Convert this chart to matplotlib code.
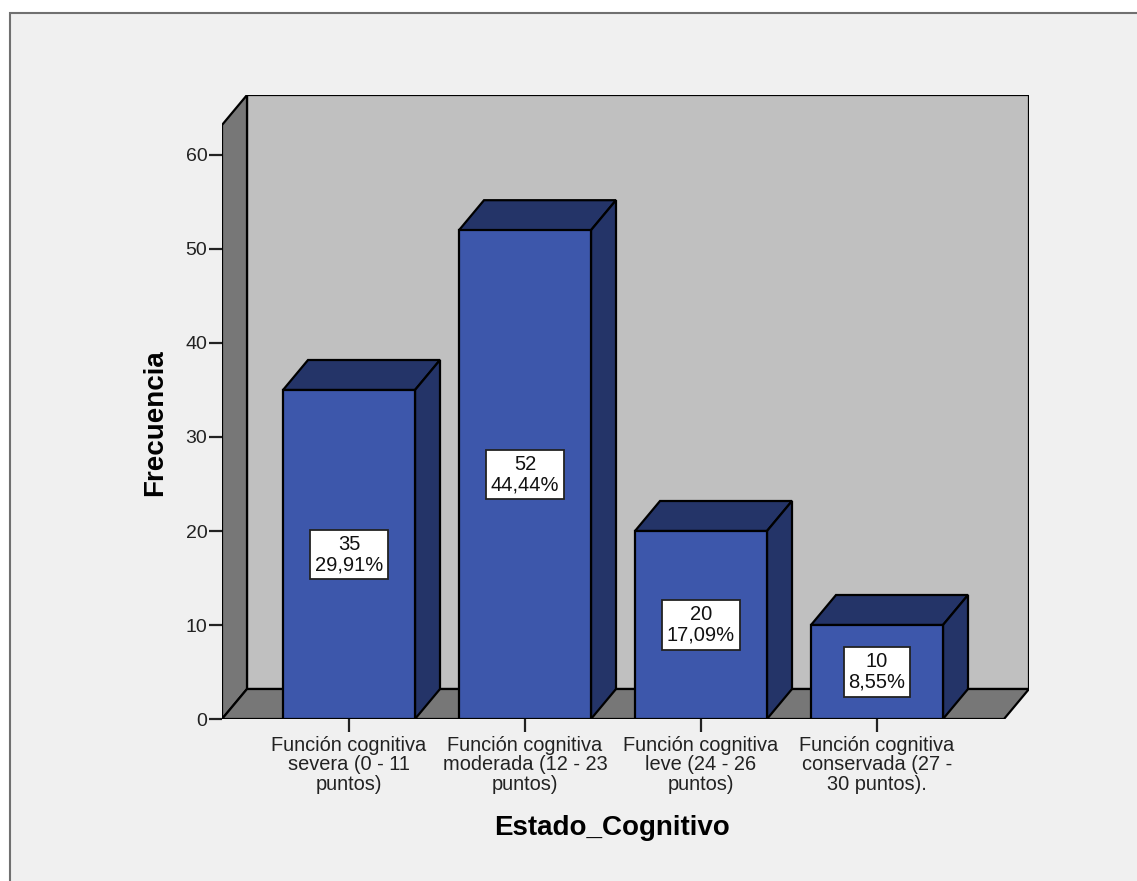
"""
Estado cognitivo - grafico de barras tipo SPSS (3D)
"""

import matplotlib
matplotlib.use('Agg')
from matplotlib import pyplot as plt
from matplotlib.patches import Polygon, Rectangle

plt.rcParams['font.family'] = ['Liberation Sans', 'DejaVu Sans']

# datos
categorias = ['Función cognitiva\nsevera (0 - 11\npuntos)',
              'Función cognitiva\nmoderada (12 - 23\npuntos)',
              'Función cognitiva\nleve (24 - 26\npuntos)',
              'Función cognitiva\nconservada (27 -\n30 puntos).']
frecuencias = [35, 52, 20, 10]
porcentajes = ['29,91%', '44,44%', '17,09%', '8,55%']
y_ticks = [0, 10, 20, 30, 40, 50, 60]

W, H = 1137, 881
FRONT_BLUE = '#3d57ab'
DARK_BLUE = '#243468'
WALL_BACK = '#c0c0c0'
WALL_SIDE = '#777777'
BG = '#f0f0f0'

fig = plt.figure(figsize=(W / 100, H / 100), dpi=100, facecolor='white')

# marco exterior gris
fig.patches.append(Rectangle((10 / W, -0.1), 1.2, (H - 13) / H + 0.1,
                             transform=fig.transFigure, facecolor=BG,
                             edgecolor='#707070', lw=1.5, zorder=-10))

# area del grafico (pixeles): pared frontal izq x=222, fondo der x=1029, y 95..719
left, right, top, bottom = 222, 1029, 95, 719
ax = fig.add_axes([left / W, (H - bottom) / H, (right - left) / W, (bottom - top) / H])
ax.set_zorder(5)
ax.patch.set_alpha(0)

px_per_y = 9.4
px_per_x = 176.0
x0 = -127 / px_per_x
xmax = x0 + (right - left) / px_per_x
ymax = (bottom - top) / px_per_y
ax.set_xlim(x0, xmax)
ax.set_ylim(0, ymax)

dx = 25 / px_per_x
dy = 30 / px_per_y
x1 = xmax - dx          # borde frontal derecho del piso
ytop = ymax - dy        # altura frontal de la pared izq

ek = dict(edgecolor='black', lw=1.6, joinstyle='miter')

# pared de fondo, pared lateral y piso
ax.add_patch(Rectangle((x0 + dx, dy), x1 - x0, ytop, facecolor=WALL_BACK, **ek))
ax.add_patch(Polygon([(x0, 0), (x0 + dx, dy), (x0 + dx, ymax), (x0, ytop)],
                     facecolor=WALL_SIDE, **ek))
ax.add_patch(Polygon([(x0, 0), (x1, 0), (xmax, dy), (x0 + dx, dy)],
                     facecolor=WALL_SIDE, **ek))

hw = 66 / px_per_x
for i, (v, p) in enumerate(zip(frecuencias, porcentajes)):
    a, b = i - hw, i + hw
    ax.add_patch(Polygon([(a, v), (b, v), (b + dx, v + dy), (a + dx, v + dy)],
                         facecolor=DARK_BLUE, **ek))
    ax.add_patch(Polygon([(b, 0), (b + dx, dy), (b + dx, v + dy), (b, v)],
                         facecolor=DARK_BLUE, **ek))
    ax.add_patch(Rectangle((a, 0), b - a, v, facecolor=FRONT_BLUE, **ek))
    ax.text(i, v / 2, f'{v}\n{p}', ha='center', va='center', fontsize=14.5,
            linespacing=1.12, color='#111111',
            bbox=dict(boxstyle='square,pad=0.24', facecolor='white',
                      edgecolor='#222222', lw=1.3))

for s in ax.spines.values():
    s.set_visible(False)

ax.set_yticks(y_ticks)
ax.set_yticklabels([str(t) for t in y_ticks], fontsize=14, color='#222222')
ax.tick_params(axis='y', length=9.5, width=1.6, pad=1, colors='#222222')
ax.set_xticks(range(len(categorias)))
ax.set_xticklabels(categorias, fontsize=14.4, linespacing=1.05, color='#222222')
ax.tick_params(axis='x', length=9, width=1.6, pad=3, colors='#222222')

fig.text(155 / W, 1 - 423 / H, 'Frecuencia', rotation=90, ha='center', va='center',
         fontsize=20, fontweight='bold')
fig.text(612 / W, 1 - 828 / H, 'Estado_Cognitivo', ha='center', va='center',
         fontsize=20, fontweight='bold')

fig.savefig('out.png', dpi=100, facecolor='white')
